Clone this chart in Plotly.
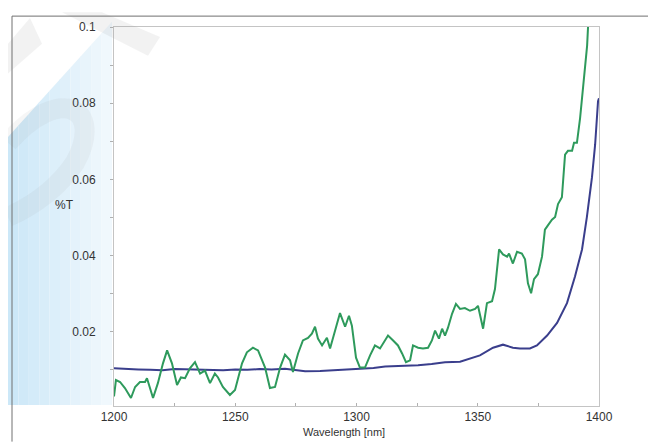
import plotly.graph_objects as go

# ---- data ----
green_wl = [1200, 1200.8, 1202.5, 1204.5, 1207, 1208.7, 1210.7, 1212.8, 1213.6, 1216.1,
            1218.1, 1220.2, 1221.9, 1223.9, 1226, 1227.6, 1229.3, 1231.3, 1233.4, 1235.5,
            1237.5, 1239.6, 1241.6, 1242.9, 1244.9, 1247.8, 1249.9, 1252.8, 1254.8, 1257.3,
            1259.4, 1262.3, 1264.3, 1266.4, 1268.5, 1270.5, 1272.6, 1273.8, 1275.9, 1277.9,
            1280, 1281.6, 1282.9, 1284.1, 1285.8, 1287.8, 1289.1, 1291.1, 1293.2, 1295.3,
            1296.9, 1298.1, 1299.8, 1301.4, 1303.5, 1305.6, 1307.6, 1309.7, 1311.8, 1313,
            1315.1, 1317.1, 1318.8, 1320.4, 1322.1, 1323.3, 1325.4, 1327.4, 1329.5, 1331.1,
            1332.4, 1334, 1335.3, 1336.5, 1337.7, 1339.4, 1341, 1342.7, 1344.7, 1346.8,
            1348.9, 1350.1, 1352.2, 1353.8, 1355.9, 1357.1, 1358.8, 1360.4, 1362.1, 1362.9,
            1364.5, 1366.2, 1368.2, 1369.5, 1370.7, 1372, 1373.2, 1374.8, 1376.5, 1377.7,
            1379, 1380.6, 1381.9, 1383.1, 1384.7, 1386, 1387.2, 1388.9, 1389.7, 1390.9,
            1392.2, 1393.4, 1395.1, 1395.5, 1396.3]
green_t = [0.0030, 0.0073, 0.0068, 0.0052, 0.0026, 0.0055, 0.0068, 0.0068, 0.0078, 0.0026,
           0.0065, 0.0117, 0.0151, 0.0117, 0.0060, 0.0080, 0.0078, 0.0104, 0.0120, 0.0090,
           0.0098, 0.0065, 0.0090, 0.0080, 0.0055, 0.0034, 0.0047, 0.0117, 0.0146, 0.0158,
           0.0151, 0.0106, 0.0052, 0.0055, 0.0106, 0.0140, 0.0125, 0.0094, 0.0143, 0.0177,
           0.0184, 0.0195, 0.0213, 0.0182, 0.0164, 0.0184, 0.0156, 0.0203, 0.0249, 0.0213,
           0.0242, 0.0216, 0.0132, 0.0106, 0.0106, 0.0138, 0.0164, 0.0156, 0.0177, 0.0190,
           0.0177, 0.0164, 0.0143, 0.0120, 0.0125, 0.0164, 0.0158, 0.0156, 0.0158, 0.0177,
           0.0203, 0.0182, 0.0208, 0.0190, 0.0210, 0.0247, 0.0273, 0.0260, 0.0262, 0.0255,
           0.0260, 0.0268, 0.0208, 0.0275, 0.0280, 0.0312, 0.0416, 0.0403, 0.0397, 0.0405,
           0.0379, 0.0410, 0.0405, 0.0390, 0.0327, 0.0301, 0.0338, 0.0351, 0.0397, 0.0468,
           0.0480, 0.0494, 0.0501, 0.0535, 0.0553, 0.0665, 0.0675, 0.0675, 0.0696, 0.0696,
           0.0761, 0.0847, 0.0951, 0.1003, 0.1060]

blue_wl = [1200, 1205, 1210, 1215, 1220, 1225, 1230, 1235, 1240, 1245,
           1250, 1255, 1260, 1265, 1270.5, 1275, 1278.8, 1285, 1291.1, 1296,
           1302.3, 1307, 1311.8, 1318, 1325.4, 1331, 1336.5, 1342.7, 1346.8, 1350.9,
           1356.3, 1360.4, 1364.5, 1367.4, 1371.5, 1374.4, 1378.6, 1382.7, 1386.8, 1390.1,
           1393, 1395, 1397.1, 1398.4, 1399.6, 1400]
blue_t = [0.0104, 0.0102, 0.0101, 0.0100, 0.0099, 0.0102, 0.0101, 0.0101, 0.0100, 0.0099,
          0.0101, 0.0100, 0.0102, 0.0101, 0.0103, 0.0099, 0.0096, 0.0097, 0.0099, 0.0100,
          0.0104, 0.0105, 0.0109, 0.0110, 0.0112, 0.0115, 0.0120, 0.0121, 0.0130, 0.0138,
          0.0158, 0.0166, 0.0158, 0.0156, 0.0156, 0.0164, 0.0190, 0.0223, 0.0275, 0.0345,
          0.0416, 0.0501, 0.0605, 0.0691, 0.0805, 0.0813]

x_tickvals = [1200, 1250, 1300, 1350, 1400]
x_ticktext = ["1200", "1250", "1300", "1350", "1400"]
y_tickvals = [0.02, 0.04, 0.06, 0.08, 0.1]
y_ticktext = ["0.02", "0.04", "0.06", "0.08", "0.1"]

# page has an 8px body margin, so the figure is shrunk and offset accordingly
OFF = 8
W, H = 656 - OFF, 442 - OFF
PL, PR, PT, PB = 114, 599, 23, 406          # plot area in page pixels
L, T = PL - OFF, PT - OFF
R = W - L - (PR - PL)
B = H - T - (PB - PT)
PW, PH = PR - PL, PB - PT


def px(x):
    return (x - PL) / PW


def py(y):
    return (PB - y) / PH


fig = go.Figure()
fig.add_trace(go.Scatter(x=blue_wl, y=blue_t, mode="lines",
                         line=dict(color="#3a3e8c", width=2), showlegend=False))
fig.add_trace(go.Scatter(x=green_wl, y=green_t, mode="lines",
                         line=dict(color="#2e9a5c", width=2), showlegend=False))

shapes = []
# light blue watermark gradient strips on the left
n = 10
x0, x1 = 8, 112
for i in range(n):
    a = x0 + (x1 - x0) * i / n
    b = x0 + (x1 - x0) * (i + 1) / n
    ta = 143 - a * 123 / 110
    tb = 143 - b * 123 / 110
    f = i / (n - 1)
    r = int(204 + (240 - 204) * f)
    g = int(232 + (248 - 232) * f)
    bl = int(248 + (253 - 248) * f)
    path = (f"M {px(a)},{py(405)} L {px(a)},{py(ta)} L {px(b)},{py(tb)} "
            f"L {px(b)},{py(405)} Z")
    shapes.append(dict(type="path", xref="paper", yref="paper", path=path,
                       fillcolor=f"rgb({r},{g},{bl})", line=dict(width=0),
                       layer="below"))
# gray watermark strokes
gray_polys = [
    [(62, 8), (102, 8), (160, 33), (148, 52)],
    [(8, 40), (8, 70), (42, 40), (30, 14)],
]
for poly in gray_polys:
    path = "M " + " L ".join(f"{px(x)},{py(y)}" for x, y in poly) + " Z"
    shapes.append(dict(type="path", xref="paper", yref="paper", path=path,
                       fillcolor="rgba(150,150,150,0.12)", line=dict(width=0),
                       layer="above"))
# faint D-shaped arc
arc = (f"M {px(8)},{py(140)} C {px(60)},{py(80)} {px(105)},{py(105)} "
       f"{px(75)},{py(160)} C {px(55)},{py(190)} {px(30)},{py(205)} {px(8)},{py(215)}")
shapes.append(dict(type="path", xref="paper", yref="paper", path=arc,
                   line=dict(color="rgba(150,150,150,0.09)", width=20), layer="above"))
# outer frame (top and left)
shapes.append(dict(type="line", xref="paper", yref="paper",
                   x0=px(12), y0=py(12), x1=px(656), y1=py(12),
                   line=dict(color="#707070", width=1)))
shapes.append(dict(type="line", xref="paper", yref="paper",
                   x0=px(12), y0=py(12), x1=px(12), y1=py(442),
                   line=dict(color="#707070", width=1)))

fig.update_layout(
    width=W, height=H,
    margin=dict(l=L, r=R, t=T, b=B),
    paper_bgcolor="white", plot_bgcolor="rgba(0,0,0,0)",
    font=dict(family="Liberation Sans, Arial, sans-serif", size=12, color="#333333"),
    shapes=shapes,
    annotations=[
        dict(text="%T", xref="paper", yref="paper", x=px(64), y=py(203),
             showarrow=False, xanchor="center", yanchor="middle",
             font=dict(size=12, color="#333333")),
        dict(text="Wavelength [nm]", xref="paper", yref="paper", x=px(344), y=py(432),
             showarrow=False, xanchor="center", yanchor="middle",
             font=dict(size=11, color="#333333")),
    ],
)
fig.update_xaxes(range=[1200, 1400], tickvals=x_tickvals, ticktext=x_ticktext,
                 showgrid=False, zeroline=False, showline=True, linecolor="#c4c4c4",
                 linewidth=1, mirror=True, ticks="inside", ticklen=3, tickcolor="#b0b0b0",
                 minor=dict(dtick=25, tick0=1200, ticks="inside", ticklen=3,
                            tickcolor="#b0b0b0"),
                 tickfont=dict(size=12, color="#333333"))
fig.update_yaxes(range=[0.0005, 0.1], tickvals=y_tickvals, ticktext=y_ticktext,
                 showgrid=False, zeroline=False, showline=True, linecolor="#c4c4c4",
                 linewidth=1, mirror=True, ticks="outside", ticklen=3, tickcolor="#b0b0b0",
                 ticklabelstandoff=12,
                 minor=dict(dtick=0.01, tick0=0, ticks="outside", ticklen=3,
                            tickcolor="#b0b0b0"),
                 tickfont=dict(size=12, color="#333333"))

fig.write_html("out.html")
